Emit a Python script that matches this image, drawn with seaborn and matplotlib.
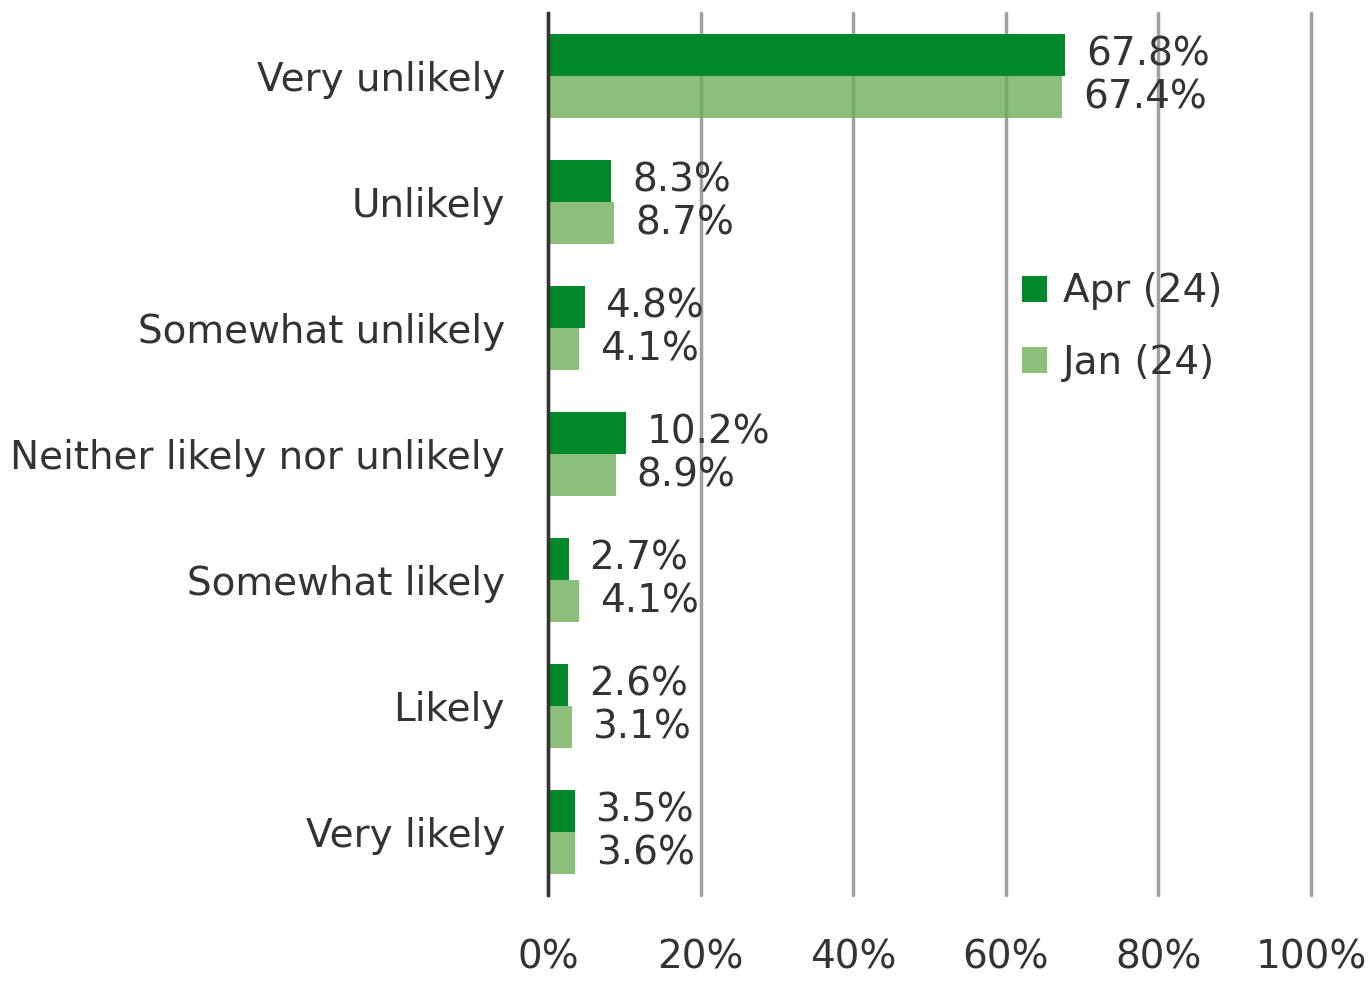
import matplotlib.pyplot as plt
import numpy as np
import pandas as pd
import seaborn as sns

# ================================
# Likelihood responses, Apr (24) vs Jan (24)
# ================================

categories = [
    "Very unlikely",
    "Unlikely",
    "Somewhat unlikely",
    "Neither likely nor unlikely",
    "Somewhat likely",
    "Likely",
    "Very likely",
]
apr_24 = [67.8, 8.3, 4.8, 10.2, 2.7, 2.6, 3.5]
jan_24 = [67.4, 8.7, 4.1, 8.9, 4.1, 3.1, 3.6]
series = ["Apr (24)", "Jan (24)"]
colors = ["#00882B", "#6FAF59"]

df = pd.DataFrame({
    "category": categories * 2,
    "value": apr_24 + jan_24,
    "period": [series[0]] * len(categories) + [series[1]] * len(categories),
})

sns.set_style("white")
plt.rcParams["font.family"] = ["DejaVu Sans"]
text_color = "#333333"
fs = 28

fig = plt.figure(figsize=(13.72, 9.84), dpi=100)
ax = fig.add_axes([548 / 1372, 1 - 895 / 984, 763 / 1372, 882 / 984])

sns.barplot(
    data=df, y="category", x="value", hue="period",
    palette=colors, width=0.67, saturation=1, ax=ax, linewidth=0,
)

# lighter series is slightly see-through, as in the original
for patch in ax.containers[1]:
    patch.set_alpha(0.8)

ax.set_xlim(0, 100)
ax.set_xticks(np.arange(0, 101, 20))
ax.set_xticklabels([f"{t}%" for t in range(0, 101, 20)])
ax.set_xlabel("")
ax.set_ylabel("")
ax.xaxis.grid(True, color="#A0A0A0", linewidth=2.5)
ax.set_axisbelow(True)
for gl in ax.get_xgridlines():
    gl.set_clip_on(False)
ax.tick_params(axis="x", length=0, pad=31, labelsize=fs, labelcolor=text_color)
ax.tick_params(axis="y", length=0, pad=31, labelsize=fs, labelcolor=text_color)

for s in ["top", "right", "bottom"]:
    ax.spines[s].set_visible(False)
ax.spines["left"].set_color("#333333")
ax.spines["left"].set_linewidth(2.5)
ax.spines["left"].set_zorder(4)

for container in ax.containers:
    ax.bar_label(
        container, labels=[f"{v:.1f}%" for v in container.datavalues],
        padding=15, fontsize=fs, color=text_color, zorder=5,
    )

leg = ax.legend(
    loc="center left", bbox_to_anchor=(0.575, 0.644), frameon=False,
    fontsize=fs, handlelength=0.65, handleheight=0.65, handletextpad=0.4,
    labelspacing=0.85,
)
leg.legend_handles[1].set_alpha(0.8)
for t in leg.get_texts():
    t.set_color(text_color)

fig.savefig("out.png", dpi=100)
